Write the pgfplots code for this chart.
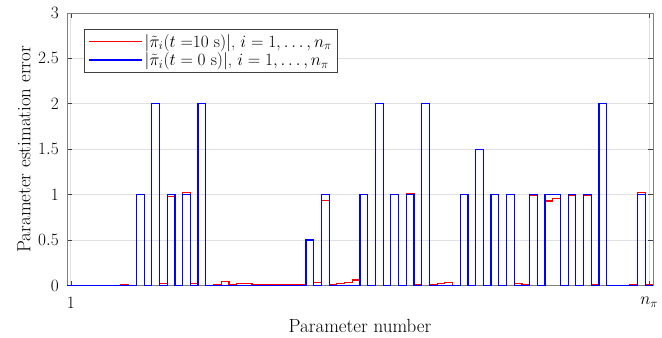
\documentclass[border=0pt]{standalone}
\usepackage{pgfplots}
\pgfplotsset{compat=1.18}
\definecolor{mred}{rgb}{1,0,0}
\definecolor{mblue}{rgb}{0,0,1}
\pgfplotstableread{
x y
1 0.003
2 0.003
3 0.003
4 0.003
5 0.003
6 0.003
7 0.003
8 0.008
9 0.002
10 1.0
11 0.002
12 2.0
13 0.02
14 0.98
15 0.003
16 1.02
17 0.025
18 2.0
19 0.003
20 0.015
21 0.045
22 0.015
23 0.025
24 0.018
25 0.005
26 0.005
27 0.005
28 0.005
29 0.005
30 0.015
31 0.015
32 0.5
33 0.035
34 0.94
35 0.005
36 0.02
37 0.033
38 0.06
39 1.0
40 0.003
41 2.0
42 0.003
43 1.0
44 0.003
45 1.01
46 0.005
47 2.0
48 0.005
49 0.02
50 0.035
51 0.002
52 1.0
53 0.002
54 1.5
55 0.002
56 1.0
57 0.002
58 1.0
59 0.02
60 0.005
61 0.99
62 0.002
63 0.93
64 0.96
65 0.002
66 0.99
67 0.002
68 0.99
69 0.01
70 2.0
71 0.003
72 0.003
73 0.003
74 0.015
75 1.02
76 0.01
77 0.01
}\redtab
\pgfplotstableread{
x y
1 0
9 0
10 1
11 0
12 2
13 0
14 1
15 0
16 1
17 0
18 2
19 0
32 0.5
33 0
34 1
35 0
39 1
40 0
41 2
42 0
43 1
44 0
45 1
46 0
47 2
48 0
52 1
53 0
54 1.5
55 0
56 1
57 0
58 1
59 0
61 1
62 0
63 1
65 0
66 1
67 0
68 1
69 0
70 2
71 0
75 1
76 0
77 0
}\bluetab
\begin{document}
\begin{tikzpicture}
\fill[white] (-67pt,-51.5pt) rectangle (595pt,285.5pt);
\begin{axis}[
  name=ax, at={(0pt,0pt)}, anchor=south west,
  scale only axis, width=586pt, height=272.5pt,
  xmin=1, xmax=77, ymin=0, ymax=3,
  xtick={1.5,76.5}, xticklabels={$1$,$n_\pi$},
  ytick={0,0.5,1,1.5,2,2.5,3},
  yticklabels={$0$,$0.5$,$1$,$1.5$,$2$,$2.5$,$3$},
  tick align=inside, major tick length=5pt,
  xmajorgrids, ymajorgrids,
  grid style={draw=black!12, line width=0.8pt},
  axis line style={draw=black!50, line width=0.9pt},
  tick style={draw=black!75, line width=0.7pt},
  ticklabel style={font=\fontsize{17}{20}\selectfont},
  yticklabel style={inner sep=0pt, xshift=-8pt},
  xticklabel style={inner sep=0pt, yshift=-11.5pt, anchor=north},
  xlabel={Parameter number},
  ylabel={Parameter estimation error},
  x label style={font=\fontsize{19}{22}\selectfont, at={(axis description cs:0.5,-0.1248)}, anchor=north, inner sep=0pt},
  y label style={font=\fontsize{19}{22}\selectfont, at={(axis description cs:-0.0734,0.5)}, anchor=center, inner sep=0pt},
  legend style={at={(axis description cs:0,1)}, anchor=north west, xshift=17pt, yshift=-16pt,
    draw=black!75, line width=0.8pt, fill=white, font=\fontsize{17}{21.5}\selectfont,
    inner xsep=4pt, inner ysep=3pt},
  legend cell align=left,
  legend image code/.code={\draw[#1] (0pt,0pt) -- (53pt,0pt);},
]
\addplot[draw=mred, line width=1.2pt, const plot, mark=none] table[x=x,y=y] {\redtab};
\addlegendentry{$|\tilde{\pi}_i(t =\mskip-5mu 10\ \mathrm{s})|$, $i=1,\ldots,n_\pi$}
\addplot[draw=mblue, line width=1.2pt, const plot, mark=none] table[x=x,y=y] {\bluetab};
\addlegendentry{$|\tilde{\pi}_i(t = 0\ \mathrm{s})|$, $i=1,\ldots,n_\pi$}
\end{axis}
\pgfresetboundingbox
\path[use as bounding box] ([shift={(-67pt,-51.5pt)}]ax.south west) rectangle ([shift={(9pt,13pt)}]ax.north east);
\end{tikzpicture}
\end{document}
